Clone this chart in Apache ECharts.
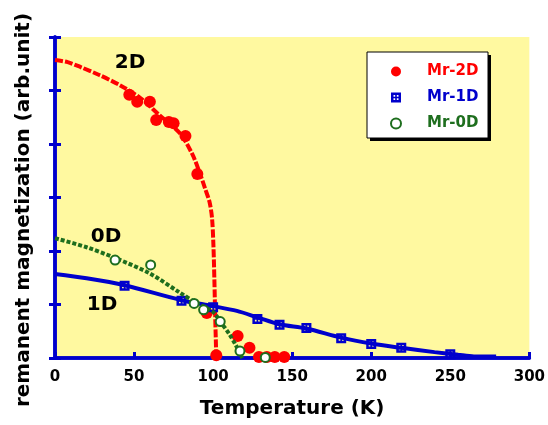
<!DOCTYPE html>
<html>
<head>
<meta charset="utf-8">
<script src="https://cdn.jsdelivr.net/npm/echarts@6/dist/echarts.min.js"></script>
<style>
html,body{margin:0;padding:0;background:#fff;}
#chart{width:548px;height:425px;}
</style>
</head>
<body>
<div id="chart"></div>
<script>
// ---- data ----
var xTicks = [0, 50, 100, 150, 200, 250, 300];
// Mr-2D measured points [T, M]
var mr2D = [[47,4.92],[52,4.79],[60,4.79],[64,4.45],[72,4.41],[75,4.39],[82.5,4.15],[90,3.44],[96,0.84],[102,0.05],[115.5,0.41],[123,0.19],[129,0.02],[134,0.02],[139,0.02],[145,0.02]];
// Mr-1D measured points
var mr1D = [[44,1.35],[80,1.07],[100,0.95],[128,0.73],[142,0.62],[159,0.56],[181,0.37],[200,0.26],[219,0.19],[250,0.07]];
// Mr-0D measured points
var mr0D = [[38,1.83],[60.5,1.74],[88,1.02],[94,0.9],[104.5,0.68],[117,0.13],[133,0.01]];
// guide curves
var fit2D = [[0,5.57],[8,5.53],[16,5.44],[28,5.29],[41,5.10],[54,4.86],[66,4.54],[79,4.20],[87,3.80],[92,3.42],[95,3.16],[97.7,2.92],[99.3,2.62],[100.2,2.10],[100.8,1.46],[101.3,0.80],[102,0.02]];
var fit1D = [[0,1.57],[20,1.49],[44,1.36],[80,1.08],[100,0.97],[115,0.88],[128,0.76],[142,0.63],[159,0.55],[181,0.38],[200,0.27],[219,0.19],[240,0.11],[255,0.06],[265,0.03],[279,0.03]];
var fit0D = [[0,2.24],[20,2.07],[38,1.87],[60,1.58],[79,1.22],[90,1.02],[100,0.86],[105,0.66],[110,0.46],[114,0.26],[117,0.08],[118.5,0.0]];
var curveLabels = [['2D', 130, 63], ['0D', 106, 237], ['1D', 102, 305]];

var RED = '#ff0000', BLUE = '#0000cc', GREEN = '#1e6e1e', BG = '#fff9a0';
var FONT = 'DejaVu Sans';
var squareSym = 'path://M0,0H10V10H0Z M2.5,2.5V4.2H4.2V2.5Z M5.8,2.5V4.2H7.5V2.5Z M2.5,5.8V7.5H4.2V5.8Z M5.8,5.8V7.5H7.5V5.8Z';

var chart = echarts.init(document.getElementById('chart'), null, {renderer:'canvas'});

var axisLine = {show:true, lineStyle:{color:BLUE, width:3.5}};
var graphics = [
  {type:'rect', z:50, shape:{x:370, y:55, width:121, height:86}, style:{fill:'#000'}},
  {type:'rect', z:51, shape:{x:367, y:52, width:121, height:86}, style:{fill:'#fff', stroke:'#000', lineWidth:1}}
];
curveLabels.forEach(function(l){
  graphics.push({type:'text', z:60, x:l[1], y:l[2], style:{text:l[0], fill:'#000', font:'bold 20px "' + FONT + '"', textAlign:'center', textVerticalAlign:'middle'}});
});
graphics.push({type:'text', z:60, x:24, y:210, rotation:Math.PI/2,
  style:{text:'remanent magnetization (arb.unit)', fill:'#000', font:'bold 20px "' + FONT + '"', textAlign:'center', textVerticalAlign:'middle'}});

var option = {
  backgroundColor:'#fff',
  animation:false,
  grid:{left:55, top:37, right:17, bottom:67, show:true, backgroundColor:BG, borderWidth:0},
  graphic:graphics,
  legend:{
    orient:'vertical', left:385, top:59, itemWidth:30, itemHeight:10, itemGap:11, z:60,
    textStyle:{fontFamily:FONT, fontWeight:'bold', fontSize:15, padding:[0,0,0,11]},
    data:[
      {name:'Mr-2D', textStyle:{color:RED}},
      {name:'Mr-1D', textStyle:{color:BLUE}},
      {name:'Mr-0D', textStyle:{color:GREEN}, itemStyle:{borderWidth:2}}
    ]
  },
  xAxis:[
    {type:'value', min:0, max:300, interval:50, position:'bottom',
     axisLine:axisLine, splitLine:{show:false},
     axisTick:{show:true, inside:true, length:6, lineStyle:{color:BLUE, width:3}},
     axisLabel:{color:'#000', fontFamily:FONT, fontWeight:'bold', fontSize:15, margin:12,
       formatter:function(v){return xTicks.indexOf(v) >= 0 ? String(v) : '';}},
     name:'Temperature (K)', nameLocation:'middle', nameGap:41,
     nameTextStyle:{color:'#000', fontFamily:FONT, fontWeight:'bold', fontSize:20}},
    {type:'value', min:0, max:300, interval:50, position:'top',
     axisLine:axisLine, axisTick:{show:false}, axisLabel:{show:false}, splitLine:{show:false}}
  ],
  yAxis:[
    {type:'value', min:0, max:6, interval:1, position:'left',
     axisLine:axisLine, splitLine:{show:false}, axisLabel:{show:false},
     axisTick:{show:true, inside:true, length:6, lineStyle:{color:BLUE, width:3}}},
    {type:'value', min:0, max:6, interval:1, position:'right',
     axisLine:axisLine, splitLine:{show:false}, axisLabel:{show:false},
     axisTick:{show:true, inside:true, length:6, lineStyle:{color:BLUE, width:3}}}
  ],
  series:[
    {name:'Mr-2D', type:'scatter', data:mr2D, symbol:'circle', symbolSize:12, itemStyle:{color:RED, opacity:1}, z:2},
    {name:'fit2D', type:'line', data:fit2D, showSymbol:false, smooth:0.3, z:3,
     lineStyle:{color:RED, width:4, type:[8,2]}},
    {name:'fit1D', type:'line', data:fit1D, showSymbol:false, smooth:0.3, z:3,
     lineStyle:{color:BLUE, width:4}},
    {name:'Mr-1D', type:'scatter', data:mr1D, symbol:squareSym, symbolSize:10, itemStyle:{color:BLUE, opacity:1}, z:4},
    {name:'fit0D', type:'line', data:fit0D, showSymbol:false, smooth:0.3, z:5,
     lineStyle:{color:GREEN, width:4, type:[4,2]}},
    {name:'Mr-0D', type:'scatter', data:mr0D, symbol:'emptyCircle', symbolSize:9, z:6,
     itemStyle:{color:GREEN, borderColor:GREEN, borderWidth:2, opacity:1}}
  ]
};
chart.setOption(option);
</script>
</body>
</html>
